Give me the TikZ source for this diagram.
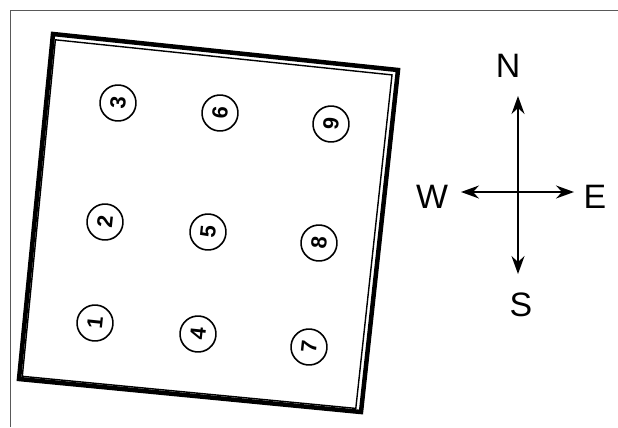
\documentclass[tikz,border=0pt]{standalone}
\usepackage{fontspec}
\setmainfont{Liberation Sans}
\usetikzlibrary{arrows.meta}

\tikzset{
  hole/.style={draw, circle, line width=1.6bp, minimum size=36bp, inner sep=0pt,
    font=\fontsize{22}{22}\selectfont\bfseries, rotate=84},
  point/.style={font=\fontsize{34}{34}\selectfont, inner sep=0pt},
  arr/.style={line width=1.5bp, -{Stealth[length=18bp,width=13bp,inset=6bp]}}
}

\begin{document}
\begin{tikzpicture}[x=1bp, y=-1bp]
 \useasboundingbox (0,0) rectangle (618,427);
 % page frame
 \draw[line width=1bp, black!65] (10,427) -- (10,10) -- (618,10);

 % plate
 \draw[line width=4.5bp, line join=miter] (53,34) -- (398,70) -- (361,412) -- (19,379) -- cycle;
 \draw[line width=1.4bp] (55.4,39.8) -- (392.0,74.9) -- (355.8,408.4) -- (22.3,376.3) -- cycle;

 % holes
 \node[hole] (h1) at (95,323)  {1};
 \node[hole] (h2) at (105,222) {2};
 \node[hole] (h3) at (118,103) {3};
 \node[hole] (h4) at (198,334) {4};
 \node[hole] (h5) at (208,232) {5};
 \node[hole] (h6) at (220,113) {6};
 \node[hole] (h7) at (309,347) {7};
 \node[hole] (h8) at (319,243) {8};
 \node[hole] (h9) at (331,124) {9};

 % compass
 \coordinate (c) at (518,192);
 \coordinate (n) at (518,96);
 \coordinate (s) at (518,274);
 \coordinate (w) at (461,192);
 \coordinate (e) at (574,192);
 \node[point] (N) at (508,66)  {N};
 \node[point] (S) at (521,305) {S};
 \node[point] (W) at (432,197) {W};
 \node[point] (E) at (595,197) {E};

 \draw[arr] (c) to (n);
 \draw[arr] (c) to (s);
 \draw[arr] (c) to (w);
 \draw[arr] (c) to (e);
\end{tikzpicture}
\end{document}
